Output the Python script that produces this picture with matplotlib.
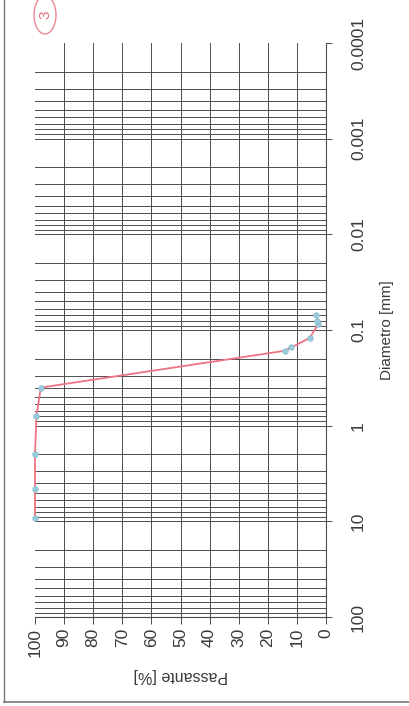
import matplotlib
matplotlib.use("Agg")
import matplotlib.pyplot as plt
from matplotlib.patches import Circle

plt.rcParams['font.family'] = ['Liberation Sans', 'DejaVu Sans']

# grain size data (diameter in mm, passing in %)
diametro = [9.2, 4.6, 2.0, 0.8, 0.4, 0.165, 0.152, 0.121, 0.087, 0.080, 0.069]
passante = [100, 100, 100, 99.5, 98, 14.2, 11.9, 5.6, 2.7, 3.0, 3.3]

pass_ticks = [100, 90, 80, 70, 60, 50, 40, 30, 20, 10, 0]
diam_ticks = [100, 10, 1, 0.1, 0.01, 0.001, 0.0001]
diam_labels = ["100", "10", "1", "0.1", "0.01", "0.001", "0.0001"]

W, H = 409, 706
fig = plt.figure(figsize=(W / 100, H / 100), dpi=100)
ax = fig.add_axes([35 / W, 89 / H, (326 - 35) / W, (617 - 43) / H])

ax.set_yscale("log")
ax.set_xlim(100, 0)
ax.set_ylim(100, 0.0001)

gc = "#4d4d4d"
# horizontal grid (every 1..9 of each decade), no line at the top edge
for e in range(-4, 2):
    for k in range(1, 10):
        v = k * 10.0 ** e
        if v <= 1e-4 * 1.01:
            continue
        ax.axhline(v, color=gc, lw=0.7, zorder=1)
# vertical grid every 10 %
for p in range(10, 100, 10):
    ax.axvline(p, color=gc, lw=0.7, zorder=1)

ax.plot(passante, diametro, color="#ef7482", lw=1.3, zorder=3, clip_on=False)
ax.plot(passante, diametro, "o", ms=4, color="#9ccbdc", mec="#86bacd",
        mew=0.5, zorder=4, clip_on=False)

for s in ["left", "top"]:
    ax.spines[s].set_visible(False)
for s in ["bottom", "right"]:
    ax.spines[s].set_color(gc)
    ax.spines[s].set_linewidth(0.8)

ax.set_xticks(pass_ticks)
ax.set_xticklabels([str(t) for t in pass_ticks], rotation=90, fontsize=12.5,
                   color="#3a3a3a")
ax.yaxis.tick_right()
ax.yaxis.set_label_position("right")
ax.set_yticks(diam_ticks)
ax.set_yticklabels(diam_labels, rotation=90, fontsize=12.5, color="#3a3a3a",
                   va="center")
ax.yaxis.set_minor_locator(matplotlib.ticker.NullLocator())
ax.tick_params(axis="x", length=5, width=0.7, color=gc, pad=3)
ax.tick_params(axis="y", length=4, width=0.7, color=gc, pad=14)

ax.set_xlabel("Passante [%]", rotation=180, fontsize=11.5, color="#3a3a3a",
              labelpad=8)
ax.set_ylabel("Diametro [mm]", rotation=90, fontsize=11, color="#3a3a3a",
              labelpad=10)

# scanned page border and circled sheet number
fig.add_artist(plt.Line2D([4 / W, 4 / W], [4 / H, 1], color="#777777", lw=1.0))
fig.add_artist(plt.Line2D([4 / W, 1], [4 / H, 4 / H], color="#777777", lw=1.2))
fig.add_artist(Circle((45 / W, 1 - 15 / H), 11 / W, transform=fig.transFigure,
                      fill=False, ec="#ec8a94", lw=1.0))
fig.text(45 / W, 1 - 15 / H, "3", rotation=90, ha="center", va="center",
         fontsize=11, color="#e36f7c")

fig.savefig("out.png", dpi=100)
